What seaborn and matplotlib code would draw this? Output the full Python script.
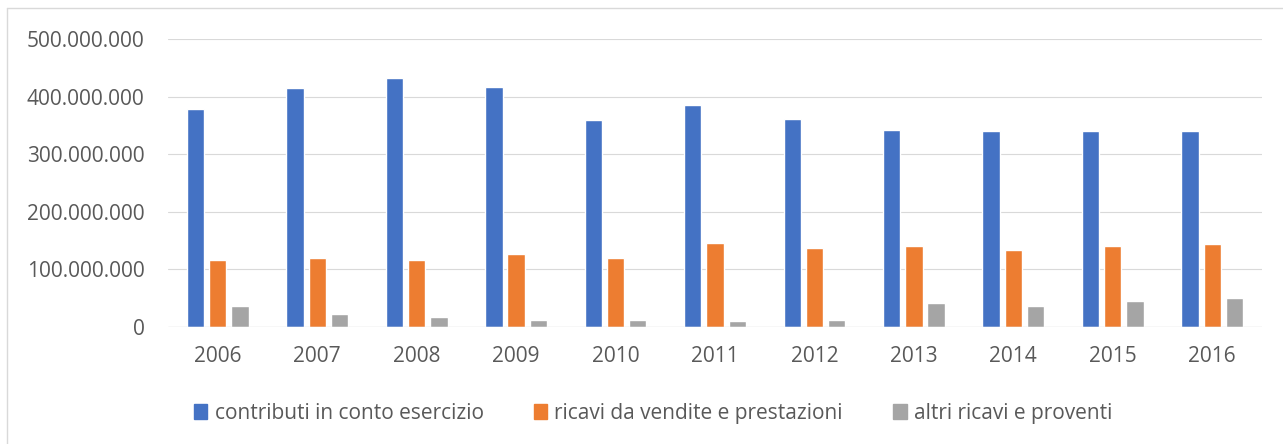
import pandas as pd
import numpy as np
import matplotlib
matplotlib.use('Agg')
import matplotlib.pyplot as plt
import seaborn as sns
from matplotlib.ticker import FuncFormatter
from matplotlib.lines import Line2D

years = ['2006', '2007', '2008', '2009', '2010', '2011', '2012', '2013', '2014', '2015', '2016']
contributi = [379e6, 415e6, 432e6, 416e6, 360e6, 386e6, 361e6, 342e6, 340e6, 341e6, 340e6]
ricavi_vendite = [116e6, 120e6, 116e6, 127e6, 120e6, 146e6, 138e6, 141e6, 134e6, 141e6, 144e6]
altri_ricavi = [37e6, 23e6, 18e6, 13e6, 12e6, 10e6, 11.5e6, 41e6, 36e6, 46e6, 51e6]
series_names = ['contributi in conto esercizio', 'ricavi da vendite e prestazioni', 'altri ricavi e proventi']
colors = ['#4472C4', '#ED7D31', '#A5A5A5']

df = pd.DataFrame({'anno': years,
                   series_names[0]: contributi,
                   series_names[1]: ricavi_vendite,
                   series_names[2]: altri_ricavi})
long = df.melt(id_vars='anno', var_name='voce', value_name='valore')

sns.set_style('white')
plt.rcParams['font.family'] = ['Open Sans', 'DejaVu Sans']
text_col = '#595959'

fig = plt.figure(figsize=(12.83, 4.44), dpi=100)
ax = fig.add_axes([168 / 1283, 1 - 327 / 444, 1094 / 1283, 288 / 444])

sns.barplot(data=long, x='anno', y='valore', hue='voce', hue_order=series_names,
            palette=colors, width=0.67, gap=0.22, saturation=1, ax=ax, legend=False,
            zorder=3)

ax.set_ylim(0, 500e6)
ax.set_xlim(-0.5, len(years) - 0.5)
ax.set_yticks(np.arange(0, 500e6 + 1, 100e6))
ax.yaxis.set_major_formatter(FuncFormatter(lambda v, p: f'{int(v):,}'.replace(',', '.')))
ax.grid(axis='y', color='#d9d9d9', linewidth=0.8, zorder=0)
ax.set_axisbelow(True)
for s in ax.spines.values():
    s.set_visible(False)
ax.axhline(0, color='#d9d9d9', linewidth=0.9, zorder=4)
ax.set_xlabel('')
ax.set_ylabel('')
ax.tick_params(axis='y', length=0, pad=17, labelsize=15, labelcolor=text_col)
ax.tick_params(axis='x', length=0, pad=14, labelsize=15, labelcolor=text_col)

handles = [plt.Rectangle((0, 0), 1, 1, color=c) for c in colors]
fig.legend(handles, series_names, loc='center', bbox_to_anchor=(653 / 1283, 1 - 413 / 444),
           ncol=3, frameon=False, fontsize=15, labelcolor=text_col,
           handlelength=0.65, handleheight=0.7, handletextpad=0.35, columnspacing=2.4)

# chart area border (left and top edges visible)
fig.add_artist(Line2D([6.5 / 1283, 6.5 / 1283], [0, 1 - 8 / 444], transform=fig.transFigure,
                      color='#d9d9d9', linewidth=1))
fig.add_artist(Line2D([6.5 / 1283, 1], [1 - 8 / 444, 1 - 8 / 444], transform=fig.transFigure,
                      color='#d9d9d9', linewidth=1))

fig.savefig('out.png', dpi=100)
